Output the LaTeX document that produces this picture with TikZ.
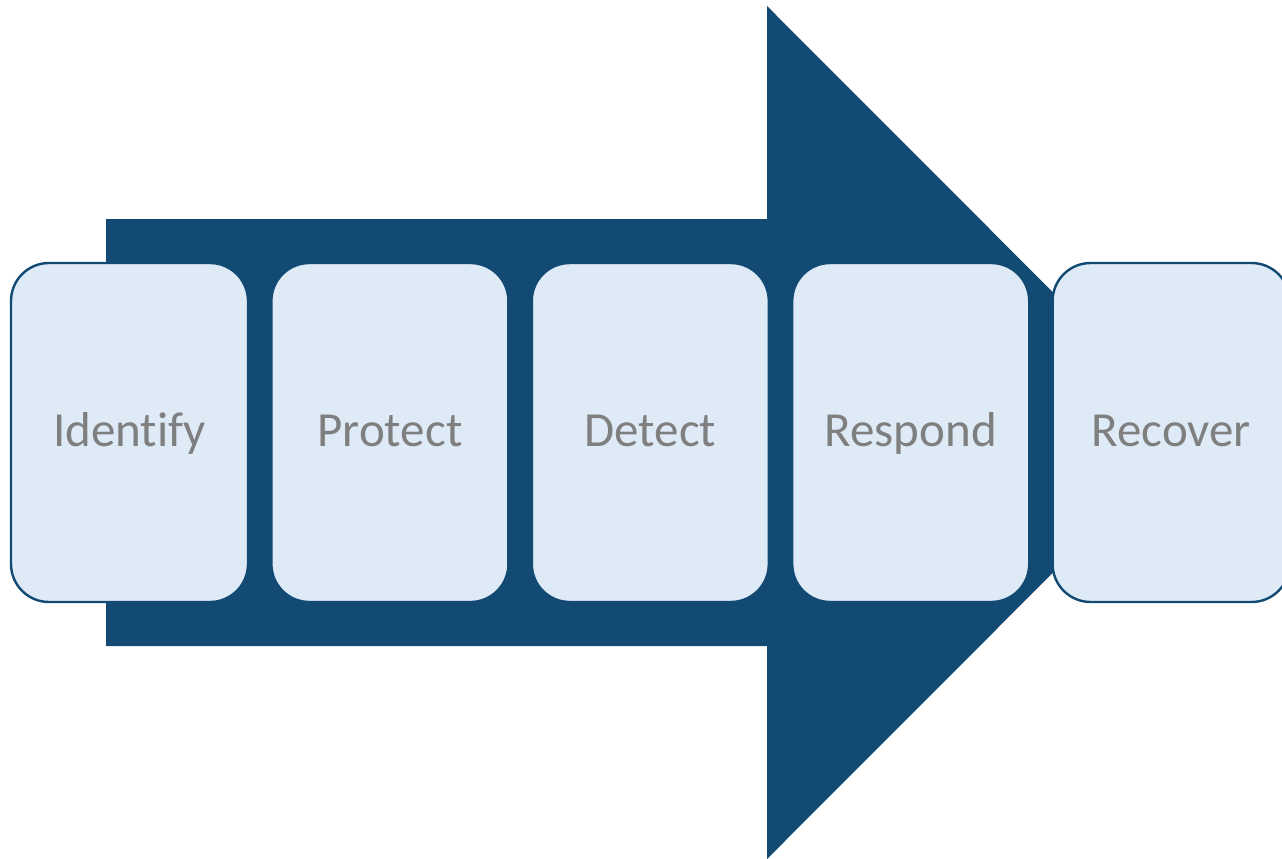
\documentclass[tikz,border=0pt]{standalone}
\usepackage{fontspec}
\setmainfont{Carlito}[Ligatures=CommonOff]
\usetikzlibrary{positioning}
\definecolor{arrowblue}{RGB}{18,74,116}
\definecolor{boxfill}{RGB}{222,234,246}
\definecolor{labelgray}{RGB}{127,127,127}
\tikzset{
  stage/.style={draw=arrowblue, line width=2.4pt, fill=boxfill, rounded corners=38pt,
    minimum width=237pt, minimum height=339pt, inner sep=0pt,
    text height=38pt, text depth=11pt,
    text=labelgray, font=\fontsize{49}{60}\selectfont},
}
\begin{document}
\begin{tikzpicture}[x=1pt, y=-1pt, node distance=21pt]
      \useasboundingbox (0,0) rectangle (1282,859);
      \clip (0,0) rectangle (1282,859);
      % big arrow behind the stages
      \fill[arrowblue] (106,219) -- (767,219) -- (767,6) -- (1193,432.5)
        -- (767,859) -- (767,646) -- (106,646) -- cycle;
      \node[stage] (identify) at (129.5,432.5) {Identify};
      \node[stage, right=of identify] (protect) {Protect};
      \node[stage, right=of protect] (detect) {Detect};
      \node[stage, right=of detect] (respond) {Respond};
      \node[stage, right=of respond] (recover) {Recover};
    \end{tikzpicture}
\end{document}
